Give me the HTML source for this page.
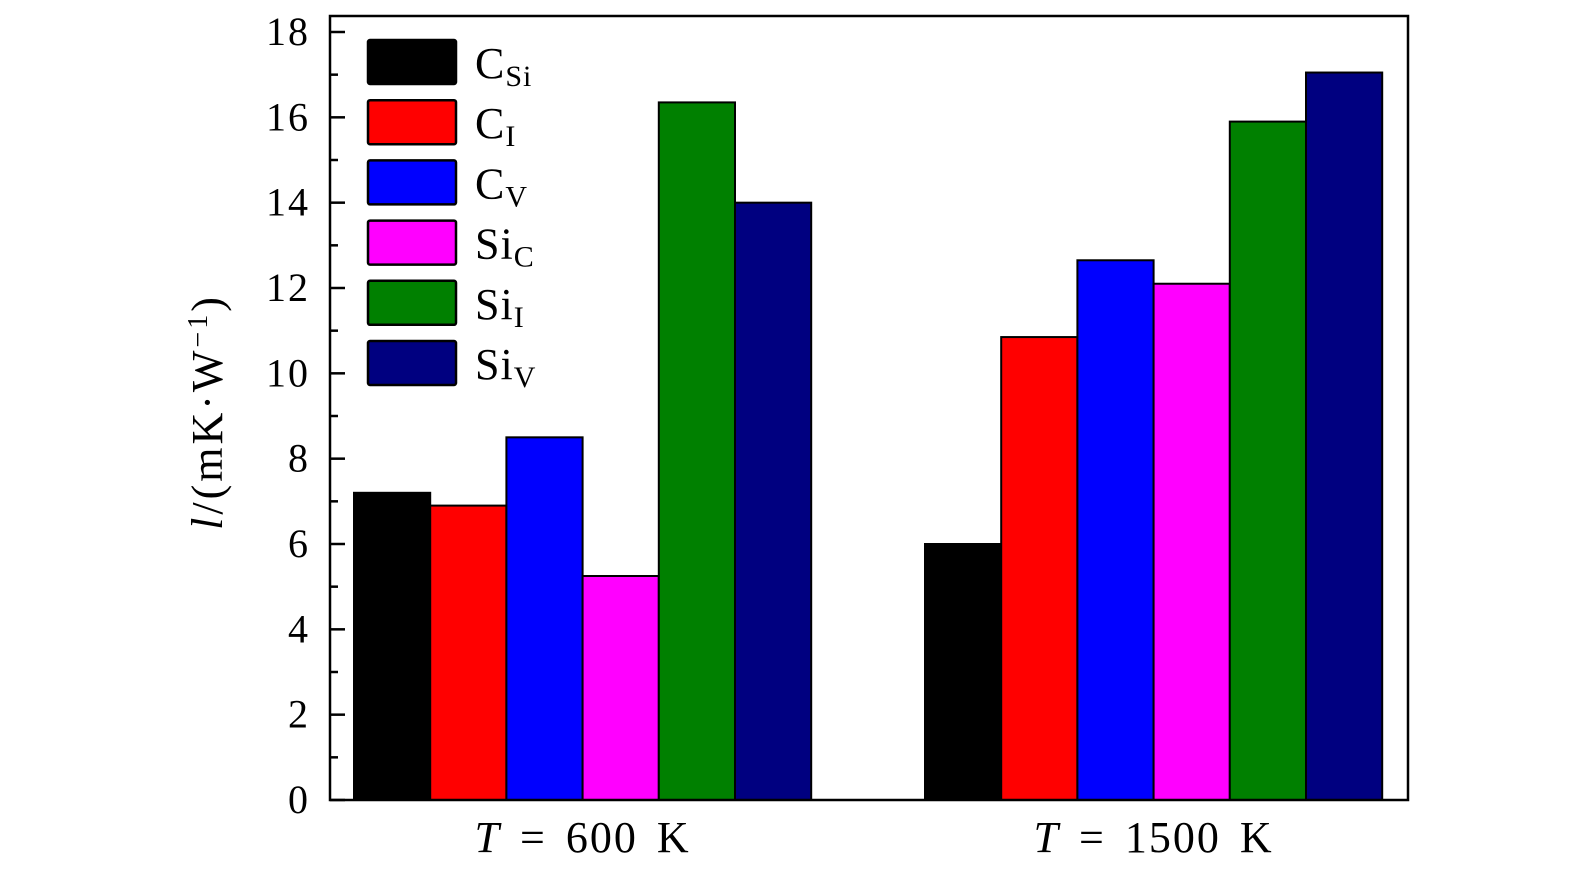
<!DOCTYPE html>
<html><head><meta charset="utf-8"><style>
body{margin:0;background:#fff}
svg text{font-family:"Liberation Serif",serif;fill:#000}
</style></head><body>
<svg id="c" width="1575" height="876">
</svg>
<script>
const categories=["T = 600 K","T = 1500 K"];
const seriesNames=["C_Si","C_I","C_V","Si_C","Si_I","Si_V"];
const seriesColors=["#000000","#ff0000","#0000ff","#ff00ff","#008000","#000080"];
const vals600=[7.2,6.9,8.5,5.25,16.35,14.0];
const vals1500=[6.0,10.85,12.65,12.1,15.9,17.05];
const yTicks=[0,2,4,6,8,10,12,14,16,18];

const svg=document.getElementById('c');
const NS="http://www.w3.org/2000/svg";
const L=330,R=1408,T=16,B=800;
const y=v=>B-v*(B-32)/18;
const groupStart=[354,925], bw=76.2;
function mk(t,a,p){const e=document.createElementNS(NS,t);for(const k in a)e.setAttribute(k,a[k]);(p||svg).appendChild(e);return e;}
const data=[vals600,vals1500];
data.forEach((vals,g)=>{vals.forEach((v,i)=>{
 const r=mk('rect',{x:groupStart[g]+i*bw,y:y(v),width:bw,height:B-y(v),fill:seriesColors[i],stroke:'#000','stroke-width':2});
 
 
});
 const t=mk('text',{x:groupStart[g]+3*bw,y:852,'font-size':44,'text-anchor':'middle','letter-spacing':2,'word-spacing':6});
 t.innerHTML='<tspan font-style="italic">T</tspan> = '+categories[g].split('= ')[1];
 
 
});
const frame=mk('rect',{x:L,y:T,width:R-L,height:B-T,fill:'none',stroke:'#000','stroke-width':2.5});


for(let v=0;v<=18;v++){
 const major=v%2==0;
 mk('line',{x1:L,x2:L+(major?15:8),y1:y(v),y2:y(v),stroke:'#000','stroke-width':2.5});
}
yTicks.forEach(v=>{
 const t=mk('text',{x:310,y:y(v)+13,'font-size':40,'text-anchor':'end','letter-spacing':2});
 t.textContent=v;
 
 
});
const yl=mk('text',{transform:'translate(222,412) rotate(-90)','font-size':44,'text-anchor':'middle','letter-spacing':3});
yl.innerHTML='<tspan font-style="italic">l</tspan>/(mK·W<tspan baseline-shift="super" font-size="28">−1</tspan>)';


const labels=[["C","Si"],["C","I"],["C","V"],["Si","C"],["Si","I"],["Si","V"]];
labels.forEach((l,i)=>{
 const yy=40+i*60.2;
 const r=mk('rect',{x:368,y:yy,width:88,height:44,fill:seriesColors[i],stroke:'#000','stroke-width':2.5,rx:2});
 
 
 const t=mk('text',{x:475,y:yy+38,'font-size':44,'letter-spacing':1});
 t.innerHTML=l[0]+'<tspan font-size="30" dy="8">'+l[1]+'</tspan>';
 
 
});
</script>
</body></html>
